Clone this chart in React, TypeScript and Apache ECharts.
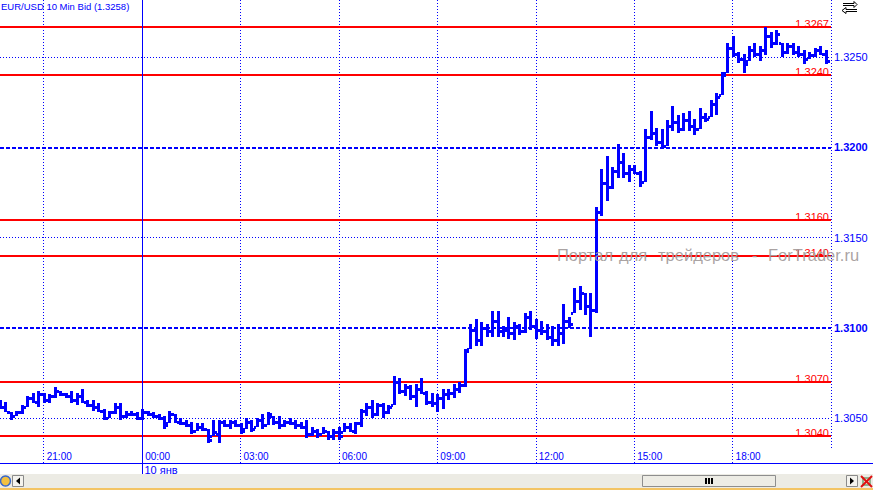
import React, { useEffect, useRef } from "react";
import * as echarts from "echarts";

const FONT = '"Liberation Sans", Arial, sans-serif';
const BLUE = "#0000ff";
const RED = "#ff0000";

const titleText = "EUR/USD 10 Min Bid (1.3258)";
const watermarkWords = ["Портал", "для", "трейдеров", "-", "ForTrader.ru"];
const dayLabel = "10 янв";
const dayBreakIndex = 26;

// bar index 0 = 19:40, 10-minute bars
const opens = [
  1.3059, 1.3056, 1.3053, 1.3051, 1.3053, 1.3056, 1.3061, 1.3059, 1.3063, 1.3060,
  1.3062, 1.3065, 1.3063, 1.3062, 1.3060, 1.3062, 1.3059, 1.3057, 1.3056, 1.3054,
  1.3050, 1.3053, 1.3056, 1.3051, 1.3052, 1.3052, 1.3050, 1.3053, 1.3052, 1.3051,
  1.3050, 1.3047, 1.3052, 1.3048, 1.3047, 1.3046, 1.3043, 1.3045, 1.3044, 1.3040,
  1.3041, 1.3048, 1.3046, 1.3048, 1.3046, 1.3044, 1.3048, 1.3045, 1.3049, 1.3046,
  1.3051, 1.3048, 1.3046, 1.3048, 1.3047, 1.3046, 1.3045, 1.3041, 1.3043, 1.3041,
  1.3043, 1.3040, 1.3042, 1.3042, 1.3045, 1.3043, 1.3047, 1.3054, 1.3056, 1.3052,
  1.3057, 1.3053, 1.3057, 1.3070, 1.3065, 1.3067, 1.3062, 1.3066, 1.3064, 1.3059,
  1.3058, 1.3061, 1.3063, 1.3064, 1.3066, 1.3068, 1.3088, 1.3099, 1.3093, 1.3100,
  1.3098, 1.3104, 1.3098, 1.3099, 1.3097, 1.3101, 1.3098, 1.3106, 1.3101, 1.3099,
  1.3098, 1.3095, 1.3093, 1.3097, 1.3104, 1.3108, 1.3115, 1.3119, 1.3112, 1.3110,
  1.3164, 1.3180, 1.3178, 1.3187, 1.3192, 1.3186, 1.3188, 1.3186, 1.3181, 1.3206,
  1.3208, 1.3203, 1.3201, 1.3212, 1.3214, 1.3210, 1.3215, 1.3212, 1.3210, 1.3217,
  1.3217, 1.3224, 1.3229, 1.3241, 1.3255, 1.3252, 1.3249, 1.3248, 1.3254, 1.3252,
  1.3254, 1.3262, 1.3258, 1.3258, 1.3253, 1.3256, 1.3253, 1.3252, 1.3249, 1.3251,
  1.3254, 1.3252,
];
const highs = [
  1.3060, 1.3059, 1.3053, 1.3054, 1.3057, 1.3062, 1.3064, 1.3065, 1.3064, 1.3063,
  1.3067, 1.3065, 1.3064, 1.3065, 1.3064, 1.3066, 1.3060, 1.3060, 1.3058, 1.3055,
  1.3054, 1.3058, 1.3058, 1.3054, 1.3054, 1.3053, 1.3055, 1.3054, 1.3053, 1.3052,
  1.3051, 1.3054, 1.3052, 1.3050, 1.3049, 1.3048, 1.3047, 1.3047, 1.3044, 1.3049,
  1.3049, 1.3049, 1.3049, 1.3049, 1.3047, 1.3050, 1.3049, 1.3050, 1.3052, 1.3053,
  1.3051, 1.3051, 1.3049, 1.3050, 1.3049, 1.3048, 1.3049, 1.3045, 1.3044, 1.3045,
  1.3043, 1.3044, 1.3045, 1.3047, 1.3047, 1.3048, 1.3055, 1.3058, 1.3060, 1.3058,
  1.3058, 1.3057, 1.3073, 1.3072, 1.3069, 1.3068, 1.3069, 1.3072, 1.3065, 1.3064,
  1.3063, 1.3066, 1.3066, 1.3069, 1.3070, 1.3088, 1.3102, 1.3105, 1.3103, 1.3102,
  1.3109, 1.3109, 1.3101, 1.3106, 1.3103, 1.3102, 1.3108, 1.3109, 1.3105, 1.3104,
  1.3102, 1.3101, 1.3102, 1.3113, 1.3106, 1.3122, 1.3123, 1.3119, 1.3119, 1.3167,
  1.3188, 1.3195, 1.3189, 1.3202, 1.3197, 1.3190, 1.3190, 1.3187, 1.3210, 1.3220,
  1.3211, 1.3210, 1.3215, 1.3223, 1.3218, 1.3219, 1.3220, 1.3216, 1.3222, 1.3219,
  1.3226, 1.3230, 1.3242, 1.3258, 1.3262, 1.3253, 1.3252, 1.3256, 1.3258, 1.3256,
  1.3267, 1.3264, 1.3265, 1.3258, 1.3258, 1.3258, 1.3256, 1.3254, 1.3253, 1.3255,
  1.3256, 1.3254,
];
const lows = [
  1.3055, 1.3053, 1.3049, 1.3051, 1.3052, 1.3056, 1.3058, 1.3056, 1.3058, 1.3058,
  1.3061, 1.3062, 1.3061, 1.3058, 1.3057, 1.3058, 1.3056, 1.3054, 1.3053, 1.3049,
  1.3050, 1.3052, 1.3049, 1.3050, 1.3051, 1.3049, 1.3049, 1.3051, 1.3050, 1.3049,
  1.3044, 1.3047, 1.3047, 1.3046, 1.3045, 1.3041, 1.3043, 1.3043, 1.3036, 1.3040,
  1.3036, 1.3045, 1.3044, 1.3045, 1.3041, 1.3044, 1.3042, 1.3045, 1.3044, 1.3046,
  1.3046, 1.3044, 1.3045, 1.3046, 1.3044, 1.3044, 1.3039, 1.3040, 1.3039, 1.3041,
  1.3038, 1.3038, 1.3038, 1.3042, 1.3042, 1.3041, 1.3045, 1.3051, 1.3050, 1.3051,
  1.3050, 1.3052, 1.3057, 1.3063, 1.3062, 1.3060, 1.3056, 1.3063, 1.3057, 1.3056,
  1.3053, 1.3055, 1.3060, 1.3061, 1.3064, 1.3067, 1.3088, 1.3090, 1.3090, 1.3095,
  1.3095, 1.3095, 1.3095, 1.3094, 1.3093, 1.3096, 1.3097, 1.3099, 1.3094, 1.3096,
  1.3093, 1.3090, 1.3090, 1.3091, 1.3100, 1.3108, 1.3110, 1.3107, 1.3095, 1.3108,
  1.3162, 1.3170, 1.3177, 1.3183, 1.3183, 1.3181, 1.3185, 1.3178, 1.3181, 1.3204,
  1.3201, 1.3200, 1.3201, 1.3209, 1.3208, 1.3209, 1.3209, 1.3207, 1.3210, 1.3214,
  1.3217, 1.3218, 1.3229, 1.3241, 1.3250, 1.3247, 1.3241, 1.3248, 1.3250, 1.3248,
  1.3251, 1.3255, 1.3257, 1.3250, 1.3252, 1.3251, 1.3250, 1.3246, 1.3249, 1.3250,
  1.3251, 1.3246,
];
const closes = [
  1.3056, 1.3053, 1.3051, 1.3053, 1.3056, 1.3061, 1.3059, 1.3063, 1.3060, 1.3062,
  1.3065, 1.3063, 1.3062, 1.3060, 1.3062, 1.3059, 1.3057, 1.3056, 1.3054, 1.3050,
  1.3053, 1.3056, 1.3051, 1.3052, 1.3052, 1.3050, 1.3053, 1.3052, 1.3051, 1.3050,
  1.3046, 1.3052, 1.3048, 1.3047, 1.3046, 1.3043, 1.3045, 1.3044, 1.3038, 1.3042,
  1.3048, 1.3046, 1.3048, 1.3046, 1.3043, 1.3048, 1.3044, 1.3049, 1.3046, 1.3052,
  1.3048, 1.3046, 1.3048, 1.3047, 1.3046, 1.3045, 1.3041, 1.3043, 1.3041, 1.3043,
  1.3040, 1.3042, 1.3040, 1.3045, 1.3043, 1.3047, 1.3054, 1.3056, 1.3052, 1.3057,
  1.3053, 1.3056, 1.3070, 1.3065, 1.3067, 1.3062, 1.3066, 1.3064, 1.3059, 1.3058,
  1.3061, 1.3063, 1.3064, 1.3066, 1.3068, 1.3087, 1.3099, 1.3093, 1.3100, 1.3098,
  1.3104, 1.3098, 1.3099, 1.3097, 1.3101, 1.3098, 1.3106, 1.3101, 1.3099, 1.3098,
  1.3095, 1.3093, 1.3097, 1.3104, 1.3102, 1.3115, 1.3119, 1.3112, 1.3110, 1.3164,
  1.3180, 1.3178, 1.3187, 1.3192, 1.3186, 1.3188, 1.3186, 1.3181, 1.3206, 1.3208,
  1.3203, 1.3201, 1.3212, 1.3214, 1.3210, 1.3215, 1.3212, 1.3210, 1.3217, 1.3216,
  1.3224, 1.3228, 1.3240, 1.3255, 1.3252, 1.3249, 1.3246, 1.3254, 1.3252, 1.3254,
  1.3262, 1.3258, 1.3263, 1.3253, 1.3256, 1.3253, 1.3252, 1.3249, 1.3251, 1.3254,
  1.3252, 1.3248,
];

const timeTickIndex = [8, 26, 44, 62, 80, 98, 116, 134];
const timeTickLabels = ["21:00", "00:00", "03:00", "06:00", "09:00", "12:00", "15:00", "18:00"];
const minorPriceTicks = [1.305, 1.315, 1.325];
const majorPriceTicks = [1.31, 1.32];
const levelLines = [1.3267, 1.324, 1.316, 1.314, 1.307, 1.304];

const X_MIN = 0;
const X_MAX = 152;
const Y_MIN = 1.3025;
const Y_MAX = 1.32817;

export default function App() {
  const ref = useRef<HTMLDivElement>(null);

  useEffect(() => {
    const chart = echarts.init(ref.current!, null, { renderer: "svg" });
    const bars = opens.map((o, i) => [i, o, highs[i], lows[i], closes[i]]);
    const levels = levelLines.map((v) => [X_MIN, v]);

    chart.setOption({
      animation: false,
      backgroundColor: "#ffffff",
      grid: { left: 0, right: 42, top: 0, bottom: 27 },
      xAxis: {
        type: "value",
        min: X_MIN,
        max: X_MAX,
        axisLine: { show: false },
        axisTick: { show: false, customValues: timeTickIndex },
        splitLine: { show: true, lineStyle: { color: BLUE, width: 1, type: [1, 2] } },
        axisLabel: {
          inside: true,
          customValues: timeTickIndex,
          formatter: (v: number) => {
            const k = timeTickIndex.indexOf(Math.round(v));
            return k >= 0 ? timeTickLabels[k] : "";
          },
          color: BLUE,
          fontSize: 10,
          fontFamily: FONT,
          align: "left",
          margin: 2,
          padding: [0, 0, 0, 3],
        },
      },
      yAxis: [
        {
          type: "value",
          position: "right",
          min: Y_MIN,
          max: Y_MAX,
          axisLine: { show: false },
          axisTick: { show: false, customValues: minorPriceTicks },
          splitLine: { show: true, lineStyle: { color: BLUE, width: 1, type: [1, 2] } },
          axisLabel: {
            customValues: minorPriceTicks,
            formatter: (v: number) => v.toFixed(4),
            color: BLUE,
            fontSize: 11,
            fontFamily: FONT,
            margin: 3,
          },
        },
        {
          type: "value",
          position: "right",
          min: Y_MIN,
          max: Y_MAX,
          axisLine: { show: false },
          axisTick: { show: false, customValues: majorPriceTicks },
          splitLine: { show: true, lineStyle: { color: BLUE, width: 2, type: [4, 2] } },
          axisLabel: {
            customValues: majorPriceTicks,
            formatter: (v: number) => v.toFixed(4),
            color: BLUE,
            fontSize: 11,
            fontWeight: "bold",
            fontFamily: FONT,
            margin: 3,
          },
        },
      ],
      series: [
        {
          type: "custom",
          name: "levels",
          z: 4,
          clip: false,
          silent: true,
          data: levels,
          encode: { x: 0, y: 1 },
          renderItem: (_params: any, api: any) => {
            const v = api.value(1);
            const p0 = api.coord([X_MIN, v]);
            const p1 = api.coord([X_MAX, v]);
            const y = Math.round(p0[1]);
            return {
              type: "group",
              children: [
                { type: "line", shape: { x1: p0[0], y1: y, x2: p1[0], y2: y }, style: { stroke: RED, lineWidth: 2 } },
                {
                  type: "text",
                  x: p1[0] - 2,
                  y: y + 2,
                  style: { text: Number(v).toFixed(4), fill: RED, fontSize: 11, fontFamily: FONT, align: "right", verticalAlign: "bottom" },
                },
              ],
            };
          },
        },
        {
          type: "custom",
          name: "EUR/USD",
          z: 10,
          clip: true,
          silent: true,
          data: bars,
          encode: { x: 0, y: [1, 2, 3, 4] },
          renderItem: (_params: any, api: any) => {
            const idx = api.value(0);
            const pO = api.coord([idx, api.value(1)]);
            const pH = api.coord([idx, api.value(2)]);
            const pL = api.coord([idx, api.value(3)]);
            const pC = api.coord([idx, api.value(4)]);
            const x = Math.round(pH[0]);
            const yH = Math.round(pH[1]);
            const yL = Math.max(Math.round(pL[1]), yH + 3);
            const yO = Math.round(pO[1]);
            const yC = Math.round(pC[1]);
            return {
              type: "group",
              children: [
                { type: "rect", shape: { x: x - 1, y: yH, width: 3, height: yL - yH }, style: { fill: BLUE } },
                { type: "rect", shape: { x: x - 3, y: yO - 1, width: 2, height: 3 }, style: { fill: BLUE } },
                { type: "rect", shape: { x: x + 2, y: yC - 1, width: 2, height: 3 }, style: { fill: BLUE } },
              ],
            };
          },
        },
      ],
    });

    const dx = Math.round(chart.convertToPixel({ xAxisIndex: 0 }, dayBreakIndex) as number) + 0.5;
    const wmX = [557, 619, 658, 752, 768];

    chart.setOption({
      graphic: [
        { type: "line", silent: true, z: 5, shape: { x1: dx, y1: 0, x2: dx, y2: 475 }, style: { stroke: BLUE, lineWidth: 1 } },
        { type: "line", silent: true, z: 5, shape: { x1: 831.5, y1: 0, x2: 831.5, y2: 448 }, style: { stroke: BLUE, lineWidth: 1, lineDash: [1, 2] } },
        { type: "line", silent: true, z: 5, shape: { x1: 0, y1: 463.5, x2: 873, y2: 463.5 }, style: { stroke: BLUE, lineWidth: 1 } },
        {
          type: "text", silent: true, z: 20, x: 1, y: 1,
          style: { text: titleText, fill: BLUE, fontSize: 9.5, fontFamily: FONT, verticalAlign: "top" },
        },
        {
          type: "text", silent: true, z: 20, x: dx + 2, y: 469.5,
          style: { text: dayLabel, fill: BLUE, fontSize: 11, fontFamily: FONT, verticalAlign: "middle" },
        },
        ...watermarkWords.map((w, i) => ({
          type: "text", silent: true, z: 50, x: wmX[i], y: 255,
          style: { text: w, fill: "#a59d9d", fontSize: 16.5, fontFamily: FONT, verticalAlign: "middle", opacity: 0.95 },
        })),
        // top-right icon
        { type: "polyline", silent: true, z: 20, shape: { points: [[843, 3.5], [854, 3.5], [854, 1.5], [857, 4.5], [854, 7.5], [854, 5.5], [843, 5.5]] }, style: { stroke: "#000", lineWidth: 1, fill: "#fff" } },
        { type: "polyline", silent: true, z: 20, shape: { points: [[857, 9.5], [846, 9.5], [846, 7.5], [842, 10.5], [846, 13.5], [846, 11.5], [857, 11.5]] }, style: { stroke: "#000", lineWidth: 1, fill: "#fff" } },
        // scrollbar
        { type: "rect", silent: true, z: 20, shape: { x: 0, y: 474, width: 873, height: 14 }, style: { fill: "#ecebe4" } },
        { type: "rect", silent: true, z: 20, shape: { x: 0, y: 488, width: 873, height: 2 }, style: { fill: "#f3c464" } },
        { type: "circle", silent: true, z: 21, shape: { cx: 5.5, cy: 481, r: 5 }, style: { fill: "#f2c040", stroke: "#3a68c8", lineWidth: 1.5 } },
        { type: "rect", silent: true, z: 21, shape: { x: 12.5, y: 475.5, width: 11, height: 11 }, style: { fill: "#f4f3ee", stroke: "#8a8a8a", lineWidth: 1 } },
        { type: "polygon", silent: true, z: 22, shape: { points: [[20, 477.5], [20, 484.5], [16, 481]] }, style: { fill: "#000" } },
        { type: "rect", silent: true, z: 21, shape: { x: 642.5, y: 475.5, width: 133, height: 11 }, style: { fill: "#edece5", stroke: "#8e8e8e", lineWidth: 1 } },
        { type: "rect", silent: true, z: 22, shape: { x: 705, y: 478, width: 2, height: 6 }, style: { fill: "#000" } },
        { type: "rect", silent: true, z: 22, shape: { x: 708, y: 478, width: 2, height: 6 }, style: { fill: "#000" } },
        { type: "rect", silent: true, z: 22, shape: { x: 711, y: 478, width: 2, height: 6 }, style: { fill: "#000" } },
        { type: "rect", silent: true, z: 21, shape: { x: 846.5, y: 475.5, width: 11, height: 11 }, style: { fill: "#f4f3ee", stroke: "#8a8a8a", lineWidth: 1 } },
        { type: "polygon", silent: true, z: 22, shape: { points: [[850, 477.5], [850, 484.5], [854, 481]] }, style: { fill: "#000" } },
        { type: "line", silent: true, z: 22, shape: { x1: 861, y1: 476, x2: 872, y2: 487 }, style: { stroke: "#e01010", lineWidth: 2 } },
        { type: "line", silent: true, z: 22, shape: { x1: 872, y1: 476, x2: 861, y2: 487 }, style: { stroke: "#e01010", lineWidth: 2 } },
        { type: "rect", silent: true, z: 21, shape: { x: 863, y: 478, width: 7, height: 7 }, style: { fill: "none", stroke: "#3a7a3a", lineWidth: 1 } },
      ],
    });

    return () => chart.dispose();
  }, []);

  return (
    <div
      ref={ref}
      style={{ position: "fixed", left: 0, top: 0, width: 873, height: 490, background: "#fff" }}
    />
  );
}
